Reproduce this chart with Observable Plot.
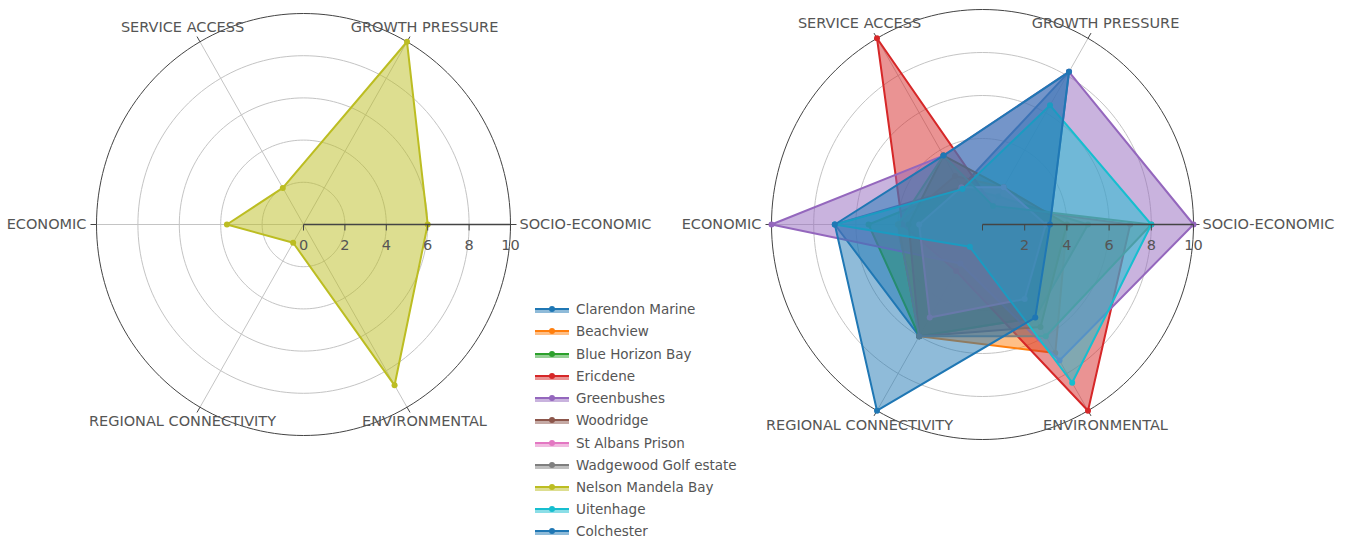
<!DOCTYPE html>
<html>
<head>
<meta charset="utf-8">
<script src="https://cdn.jsdelivr.net/npm/d3@7"></script>
<script src="https://cdn.jsdelivr.net/npm/@observablehq/plot@0.6"></script>
<style>
  body { margin: 0; background: #fff; }
  #wrap { position: relative; width: 1354px; height: 541px; overflow: hidden; font-family: "DejaVu Sans", Verdana, sans-serif; }
  #left, #right, #legend { position: absolute; top: 0; }
  #left { left: 0; }
  #right { left: 680px; }
  #legend { left: 534px; top: 298px; z-index: 5; }
  .item { display: flex; align-items: center; height: 22.24px; font-size: 13.5px; color: #555; white-space: nowrap; }
  .item svg { flex: none; margin-right: 2px; }
</style>
</head>
<body>
<div id="wrap">
  <div id="left"></div>
  <div id="right"></div>
  <div id="legend"></div>
</div>
<script>
// ---------- data ----------
const categories = ["SOCIO-ECONOMIC", "GROWTH PRESSURE", "SERVICE ACCESS", "ECONOMIC", "REGIONAL CONNECTIVITY", "ENVIRONMENTAL"];
const radialTicks = [0, 2, 4, 6, 8, 10];
const gridLevels = [2, 4, 6, 8];

const seriesNames = ["Clarendon Marine", "Beachview", "Blue Horizon Bay", "Ericdene", "Greenbushes", "Woodridge",
  "St Albans Prison", "Wadgewood Golf estate", "Nelson Mandela Bay", "Uitenhage", "Colchester"];
const seriesColors = ["#1f77b4", "#ff7f0e", "#2ca02c", "#d62728", "#9467bd", "#8c564b",
  "#e377c2", "#7f7f7f", "#bcbd22", "#17becf", "#1f77b4"];

// values in category order
const nelsonMandelaBay = [6, 10, 2, 3.7, 1, 8.8];
const clarendonMarine = [3.2, 8.2, 2, 7, 6, 5];
const beachview = [4, 2, 2.6, 4, 6, 6.9];
const blueHorizonBay = [5, 1.5, 2, 5.4, 6, 5];
const ericdene = [7, 1, 10, 3.8, 2.5, 10];
const greenbushes = [10, 8.2, 3.7, 10, 2.1, 7.3];
const woodridge = [4, 2, 3.7, 3.5, 6, 5.5];
const stAlbansPrison = [3, 2, 2, 3, 5, 4];
const wadgewoodGolfEstate = [8, 1, 3.7, 4, 6, 6];
const uitenhage = [8, 6.4, 1.9, 7, 1.2, 8.5];
const colchester = [3.2, 8.2, 3.7, 7, 10, 5];

const leftSeries = [{name: "Nelson Mandela Bay", values: nelsonMandelaBay}];
const rightSeries = [
  {name: "Clarendon Marine", values: clarendonMarine},
  {name: "Beachview", values: beachview},
  {name: "Blue Horizon Bay", values: blueHorizonBay},
  {name: "Ericdene", values: ericdene},
  {name: "Greenbushes", values: greenbushes},
  {name: "Woodridge", values: woodridge},
  {name: "St Albans Prison", values: stAlbansPrison},
  {name: "Wadgewood Golf estate", values: wadgewoodGolfEstate},
  {name: "Uitenhage", values: uitenhage},
  {name: "Colchester", values: colchester}
];
const colorOf = name => seriesColors[seriesNames.indexOf(name)];

// ---------- radar ----------
function radar({series, cx, cy, rx, ry, width, zeroBelow}) {
  const ang = i => i * Math.PI / 3;
  const ux = rx / 10, uy = ry / 10;
  const circle = L => d3.range(0, 361, 2).map(a => ({x: L * Math.cos(a * Math.PI / 180), y: L * Math.sin(a * Math.PI / 180)}));
  const textStyle = {fontSize: 14.5, fill: "#555", fontFamily: "DejaVu Sans, Verdana, sans-serif"};
  const marks = [];
  for (const L of gridLevels) marks.push(Plot.line(circle(L), {x: "x", y: "y", stroke: "#c4c4c4", strokeWidth: 1}));
  marks.push(Plot.link(categories, {
    x1: () => 0, y1: () => 0,
    x2: (d, i) => 10 * Math.cos(ang(i)), y2: (d, i) => 10 * Math.sin(ang(i)),
    stroke: "#c4c4c4", strokeWidth: 1
  }));
  marks.push(Plot.line(circle(10), {x: "x", y: "y", stroke: "#444", strokeWidth: 1}));
  marks.push(Plot.link(categories, {
    x1: (d, i) => 10 * Math.cos(ang(i)), y1: (d, i) => 10 * Math.sin(ang(i)),
    x2: (d, i) => (10 + 6 / ux) * Math.cos(ang(i)), y2: (d, i) => (10 + 6 / uy) * Math.sin(ang(i)),
    stroke: "#444", strokeWidth: 1
  }));
  if (zeroBelow) marks.push(Plot.text([0], {x: d => d, y: () => 0, dy: 21, text: d => String(d), ...textStyle}));
  for (const s of series) {
    const c = colorOf(s.name);
    const pts = s.values.map((v, i) => ({x: v * Math.cos(ang(i)), y: v * Math.sin(ang(i))}));
    marks.push(Plot.line(pts, {x: "x", y: "y", curve: "linear-closed", stroke: c, strokeWidth: 2, fill: c, fillOpacity: 0.5, strokeLinejoin: "round"}));
    marks.push(Plot.dot(pts, {x: "x", y: "y", r: 3, fill: c}));
  }
  // radial axis on top
  marks.push(Plot.link([0], {x1: () => 0, y1: () => 0, x2: () => 10, y2: () => 0, stroke: "#444", strokeWidth: 1.5}));
  marks.push(Plot.link(radialTicks, {x1: d => d, x2: d => d, y1: () => 0, y2: () => -6 / uy, stroke: "#444", strokeWidth: 1}));
  marks.push(Plot.text(zeroBelow ? radialTicks.filter(t => t !== 0) : radialTicks, {x: d => d, y: () => 0, dy: 21, text: d => String(d), ...textStyle}));
  // category labels
  const idx = categories.map((d, i) => i);
  marks.push(Plot.text(idx.filter(i => i === 0), {x: () => 10 + 9 / ux, y: () => 0, text: i => categories[i], textAnchor: "start", ...textStyle}));
  marks.push(Plot.text(idx.filter(i => i === 3), {x: () => -10 - 10 / ux, y: () => 0, text: i => categories[i], textAnchor: "end", ...textStyle}));
  marks.push(Plot.text(idx.filter(i => i !== 0 && i !== 3), {
    x: i => 10 * Math.cos(ang(i)) + Math.sign(Math.cos(ang(i))) * 17.5 / ux,
    y: i => 10 * Math.sin(ang(i)) + Math.sign(Math.sin(ang(i))) * 14.5 / uy,
    text: i => categories[i], textAnchor: "middle", ...textStyle
  }));
  return Plot.plot({
    width, height: 541, margin: 0,
    style: {background: "transparent", overflow: "visible", fontFamily: "DejaVu Sans, Verdana, sans-serif"},
    x: {domain: [-10, 10], range: [cx - rx, cx + rx], axis: null},
    y: {domain: [-10, 10], range: [cy + ry, cy - ry], axis: null},
    marks
  });
}

document.getElementById("left").appendChild(radar({series: leftSeries, cx: 303, cy: 224, rx: 207, ry: 211, width: 680, zeroBelow: false}));
document.getElementById("right").appendChild(radar({series: rightSeries, cx: 302, cy: 224, rx: 211, ry: 215, width: 674, zeroBelow: true}));

// ---------- legend ----------
const legend = document.getElementById("legend");
seriesNames.forEach((name, k) => {
  const c = seriesColors[k];
  const item = document.createElement("div");
  item.className = "item";
  item.innerHTML = `<svg width="40" height="14"><rect x="1" y="7" width="34" height="4" fill="${c}" fill-opacity="0.5"></rect>` +
    `<line x1="1" x2="35" y1="7" y2="7" stroke="${c}" stroke-width="2"></line><circle cx="18" cy="7" r="3" fill="${c}"></circle></svg>`;
  const span = document.createElement("span");
  span.textContent = name;
  item.appendChild(span);
  legend.appendChild(item);
});
</script>
</body>
</html>
